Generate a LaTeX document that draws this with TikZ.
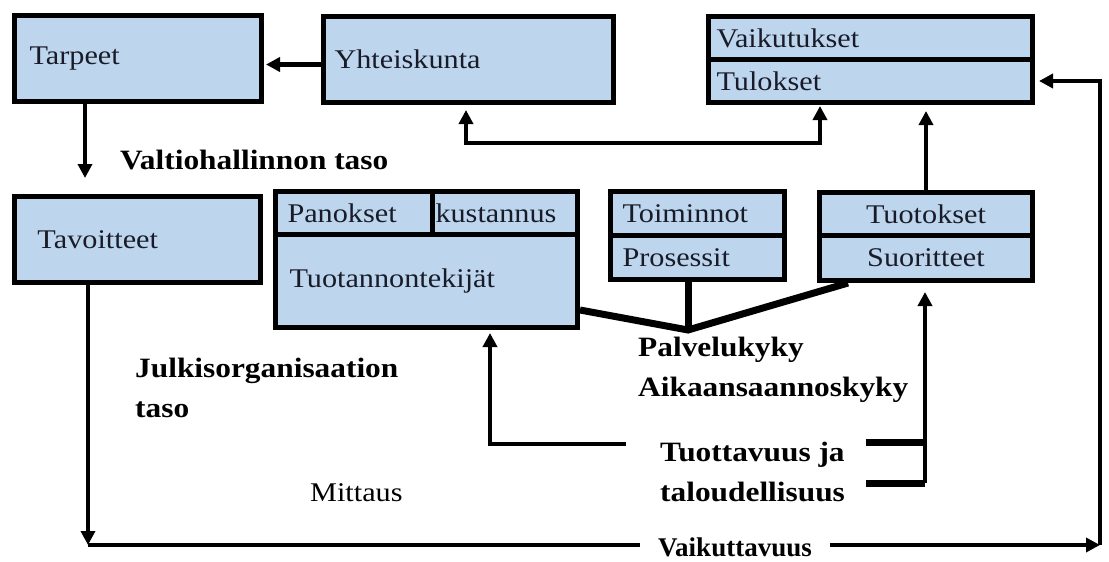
\documentclass[tikz,border=0pt]{standalone}
\usepackage{fontspec}
\setmainfont{Liberation Serif}[FakeStretch=1.12]
\newfontfamily\plainserif{Liberation Serif}
\usepackage{tikz}
\usetikzlibrary{arrows.meta,calc,positioning}

\definecolor{boxblue}{RGB}{189,214,238}
\definecolor{inkdark}{RGB}{25,28,40}

\begin{document}
\begin{tikzpicture}[
    x=1pt, y=-1pt,
    >={Triangle[length=14pt,width=14pt]},
    cell/.style={rectangle, draw, line width=5pt, fill=boxblue, anchor=north west, align=left, text=inkdark, font=\fontsize{27}{32}\selectfont},
    lbl/.style={anchor=west, align=left, inner sep=0pt, font=\fontsize{28}{40}\selectfont\bfseries},
    arrow/.style={->, line width=4.5pt},
    heavy/.style={line width=7pt}
]
\useasboundingbox (0,0) rectangle (1109,562);

% boxes
\node[cell, minimum width=247pt, minimum height=86pt, inner xsep=15pt, text width=217pt] (tarpeet) at (12,13) {Tarpeet};
\node[cell, minimum width=290pt, minimum height=86pt, inner xsep=11pt, text width=268pt] (yhteis) at (321,14) {Yhteiskunta};
\node[cell, minimum width=324pt, minimum height=43pt, inner xsep=8pt, text width=308pt] (vaikut) at (706,14) {Vaikutukset};
\node[cell, minimum width=324pt, minimum height=43pt, inner xsep=8pt, text width=308pt] (tulok) at (706,57) {Tulokset};
\node[cell, minimum width=246pt, minimum height=86pt, inner xsep=23pt, text width=200pt] (tavoit) at (12,194) {Tavoitteet};
\node[cell, minimum width=157pt, minimum height=43pt, inner xsep=12pt, text width=133pt] (panok) at (273,189) {Panokset};
\node[cell, minimum width=145pt, minimum height=43pt, inner xsep=3pt, text width=139pt] (kust) at (430,189) {kustannus};
\node[cell, minimum width=302pt, minimum height=93pt, inner xsep=14pt, text width=274pt] (tuotan) at (273,232) {Tuotannontekijät};
\node[cell, minimum width=174pt, minimum height=44pt, inner xsep=12pt, text width=150pt] (toimi) at (608,189) {Toiminnot};
\node[cell, minimum width=174pt, minimum height=44pt, inner xsep=12pt, text width=150pt] (prose) at (608,233) {Prosessit};
\node[cell, minimum width=213pt, minimum height=43pt, inner xsep=10pt, text width=193pt, align=center] (tuotok) at (817,190) {Tuotokset};
\node[cell, minimum width=213pt, minimum height=45pt, inner xsep=10pt, text width=193pt, align=center] (suorit) at (817,233) {Suoritteet};

% labels
\node[lbl] (valtio) at (120,160) {Valtiohallinnon taso};
\node[lbl] (julki) at (135,388) {Julkisorganisaation\\taso};
\node[lbl] (palvel) at (638,370) {Palvelukyky\\Aikaansaannoskyky};
\node[lbl] (tuott) at (660,472) {Tuottavuus ja\\taloudellisuus};
\node[lbl, font=\fontsize{27}{32}\selectfont] (mitta) at (310,493) {Mittaus};
\node[lbl, font=\fontsize{27}{32}\selectfont\plainserif\bfseries] (vaiku) at (658,547) {Vaikuttavuus};

% coordinates
\coordinate (tvin) at (85,178);
\coordinate (yin) at (466,110);
\coordinate (tin) at (820,106);
\coordinate (bl) at (88,545);
\coordinate (br) at (1100,545);
\coordinate (pk) at (688,330);
\coordinate (tl) at (626,444);
\coordinate (ba) at (866,442);
\coordinate (bb) at (866,483);
\coordinate (bv) at (925,483);

% connectors
\draw[arrow] ([yshift=-5pt]yhteis.west) -- ([yshift=-5pt,xshift=2pt]yhteis.west -| tarpeet.east);
\draw[arrow] (tarpeet.south -| tvin) -- (tvin);
\draw[arrow, <->] (yin) -- ++(0,33) -| (tin);
\draw[arrow] (tuotok.north) -- ([yshift=-6pt]tuotok.north |- tulok.south);

\draw[arrow] (tavoit.south -| bl) -- (bl);
\draw[line width=4.5pt] (bl) -- ([xshift=-18pt]vaiku.west |- bl);
\draw[arrow] ([xshift=18pt]vaiku.east |- br) -- (br);
\draw[arrow] (br) |- ([xshift=4pt]tulok.east);

\draw[heavy] ($(tuotan.south east)+(0,-20)$) -- (pk) -- ($(suorit.south west)+(31,0)$);
\draw[heavy] (prose.south -| pk) -- (pk);

\draw[arrow] (tl) -| ($(tuotan.south west)+(217,3)$);
\draw[heavy] (ba) -- (ba -| bv);
\draw[heavy] (bb) -- (bv);
\draw[arrow] (bv) -- ([yshift=-9pt]bv |- suorit.south);
\end{tikzpicture}
\end{document}
